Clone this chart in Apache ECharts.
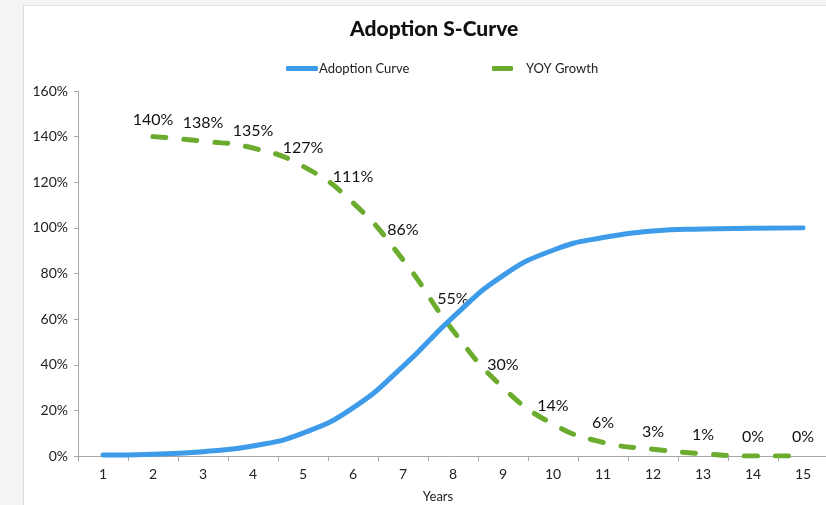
<!DOCTYPE html>
<html>
<head>
<meta charset="utf-8">
<script src="https://cdn.jsdelivr.net/npm/echarts@6/dist/echarts.min.js"></script>
<style>
  html, body { margin: 0; padding: 0; background: #f4f4f4; overflow: hidden; }
  #sheet { position: absolute; left: 23px; top: 5px; width: 803px; height: 500px;
           background: #ffffff; border-left: 1px solid #dcdcdc; border-top: 1px solid #e2e2e2; box-sizing: border-box; }
  #chart { position: absolute; left: 0; top: 0; width: 826px; height: 505px; }
</style>
</head>
<body>
<div id="sheet"></div>
<div id="chart"></div>
<script>
// Years on the horizontal axis
const years = ['1', '2', '3', '4', '5', '6', '7', '8', '9', '10', '11', '12', '13', '14', '15'];
// Cumulative adoption, percent of the market
const adoption = [0.4, 0.8, 1.9, 4.4, 10.0, 21.1, 39.3, 60.9, 79.1, 90.2, 95.8, 98.6, 99.5, 99.8, 100];
// Year-over-year growth of adoption, percent (no growth figure for year 1)
const yoyGrowth = [null, 140, 138, 135, 127, 111, 86, 55, 30, 14, 6, 3, 1, 0, 0];
// Value axis ticks
const yTicks = [0, 20, 40, 60, 80, 100, 120, 140, 160];

// How far each growth label sits above its point (px)
const labelLift = [0, 17, 18, 17, 18, 26, 30, 32, 23, 18, 19, 17, 19, 19, 19];

const FONT = 'Lato, "Open Sans", sans-serif';
const BLUE = '#3d9be9';
const GREEN = '#6bab2e';

const chart = echarts.init(document.getElementById('chart'), null, { renderer: 'canvas' });

const growthData = yoyGrowth.map((v, i) => ({
  value: v,
  label: { distance: labelLift[i] - 8, offset: [2, 0] }
}));

chart.setOption({
  backgroundColor: 'transparent',
  animation: false,
  title: {
    text: 'Adoption S-Curve',
    left: 345,
    top: 14,
    textStyle: { fontFamily: FONT, fontWeight: 900, fontSize: 21, color: '#111' }
  },
  legend: [
    {
      data: [{ name: 'Adoption Curve', icon: 'roundRect', itemStyle: { color: BLUE } }],
      left: 281,
      top: 57,
      itemWidth: 32,
      itemHeight: 5,
      itemStyle: { borderWidth: 0 },
      lineStyle: { width: 0 },
      textStyle: { fontFamily: FONT, fontSize: 13, color: '#222', padding: [0, 0, 0, -4] }
    },
    {
      data: [{ name: 'YOY Growth', icon: 'roundRect', itemStyle: { color: GREEN } }],
      left: 487,
      top: 57,
      itemWidth: 21,
      itemHeight: 5,
      itemStyle: { borderWidth: 0 },
      lineStyle: { width: 0 },
      textStyle: { fontFamily: FONT, fontSize: 13, color: '#222', padding: [0, 0, 0, 8] }
    }
  ],
  grid: { left: 78, top: 91, width: 750, height: 365, containLabel: false, outerBoundsMode: 'none' },
  xAxis: {
    type: 'category',
    data: years,
    boundaryGap: true,
    name: 'Years',
    nameLocation: 'middle',
    nameGap: 34,
    nameTextStyle: { fontFamily: FONT, fontSize: 13, color: '#222', padding: [0, 30, 0, 0] },
    axisLine: { lineStyle: { color: '#a8a8a8', width: 1 } },
    axisTick: { show: true, length: 5, lineStyle: { color: '#a8a8a8' } },
    axisLabel: { fontFamily: FONT, fontSize: 14, color: '#222', margin: 11 },
    splitLine: { show: false }
  },
  yAxis: {
    type: 'value',
    min: yTicks[0],
    max: yTicks[yTicks.length - 1],
    interval: yTicks[1] - yTicks[0],
    axisLine: { show: true, lineStyle: { color: '#a8a8a8', width: 1 } },
    axisTick: { show: true, length: 4, lineStyle: { color: '#a8a8a8' } },
    axisLabel: { fontFamily: FONT, fontSize: 14, color: '#222', margin: 10, formatter: '{value}%' },
    splitLine: { show: false }
  },
  series: [
    {
      name: 'Adoption Curve',
      type: 'line',
      data: adoption,
      smooth: 0.5,
      showSymbol: false,
      symbol: 'none',
      itemStyle: { color: BLUE },
      lineStyle: { color: BLUE, width: 5, cap: 'round' },
      emphasis: { disabled: true },
      z: 3
    },
    {
      name: 'YOY Growth',
      type: 'line',
      data: growthData,
      smooth: 0.5,
      showSymbol: true,
      symbol: 'circle',
      symbolSize: 0,
      itemStyle: { color: GREEN },
      lineStyle: { color: GREEN, width: 5, type: [13, 18], cap: 'round' },
      emphasis: { disabled: true },
      label: {
        show: true,
        position: 'top',
        fontFamily: FONT,
        fontSize: 16,
        color: '#111',
        formatter: p => (p.value == null ? '' : p.value + '%')
      },
      labelLayout: { hideOverlap: false },
      z: 2
    }
  ]
});
</script>
</body>
</html>
